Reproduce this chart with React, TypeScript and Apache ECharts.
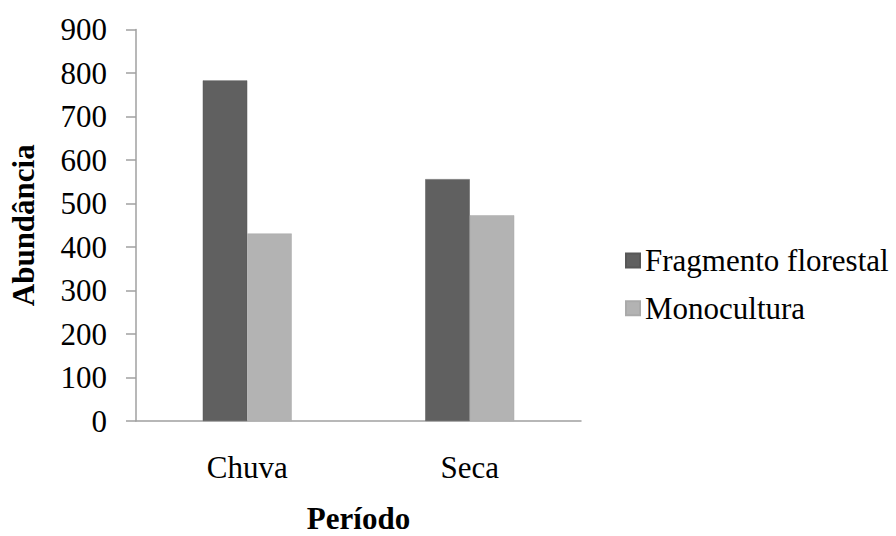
import React, { useEffect, useRef } from "react";
import * as echarts from "echarts";

const categories = ["Chuva", "Seca"];
const seriesNames = ["Fragmento florestal", "Monocultura"];
const fragmentoValues = [783, 556];
const monoculturaValues = [431, 473];
const yTicks = { min: 0, max: 900, interval: 100 };

const FONT = "Liberation Serif, Times New Roman, serif";

export default function App() {
  const ref = useRef<HTMLDivElement>(null);
  useEffect(() => {
    if (!ref.current) return;
    const chart = echarts.init(ref.current, null, { renderer: "svg", width: 896, height: 536 });
    chart.setOption({
      animation: false,
      backgroundColor: "#ffffff",
      textStyle: { fontFamily: FONT },
      grid: { left: 136, right: 315, top: 29.5, bottom: 115, containLabel: false, outerBoundsMode: "none" },
      legend: {
        orient: "vertical",
        left: 620,
        top: 240,
        itemWidth: 14,
        itemHeight: 14,
        itemGap: 16.7,
        icon: "rect",
        textStyle: { fontFamily: FONT, fontSize: 31, color: "#000", lineHeight: 30 },
        data: seriesNames,
      },
      xAxis: {
        type: "category",
        data: categories,
        axisLine: { lineStyle: { color: "#a0a0a0", width: 1.5 } },
        axisTick: { show: false },
        axisLabel: { fontFamily: FONT, fontSize: 31, color: "#000", margin: 31, lineHeight: 30 },
        name: "Período",
        nameLocation: "middle",
        nameGap: 84,
        nameTextStyle: { fontFamily: FONT, fontSize: 31, fontWeight: "bold", color: "#000", lineHeight: 26 },
      },
      yAxis: {
        type: "value",
        min: yTicks.min,
        max: yTicks.max,
        interval: yTicks.interval,
        axisLine: { show: true, lineStyle: { color: "#a0a0a0", width: 1.5 } },
        axisTick: { show: true, length: 10, lineStyle: { color: "#a0a0a0", width: 1.5 } },
        splitLine: { show: false },
        axisLabel: { fontFamily: FONT, fontSize: 31, color: "#000", margin: 29 },
        name: "Abundância",
        nameLocation: "middle",
        nameGap: 97,
        nameRotate: 90,
        nameTextStyle: { fontFamily: FONT, fontSize: 31, fontWeight: "bold", color: "#000", lineHeight: 32 },
      },
      series: [
        {
          name: seriesNames[0],
          type: "bar",
          data: fragmentoValues,
          barGap: "0%",
          barCategoryGap: "60%",
          itemStyle: { color: "#606060", borderColor: "#575757", borderWidth: 0.5 },
        },
        {
          name: seriesNames[1],
          type: "bar",
          data: monoculturaValues,
          barGap: "0%",
          barCategoryGap: "60%",
          itemStyle: { color: "#b3b3b3", borderColor: "#aaaaaa", borderWidth: 0.5 },
        },
      ],
    });
    return () => chart.dispose();
  }, []);
  return <div ref={ref} style={{ width: 896, height: 536, position: "absolute", left: 0, top: 0 }} />;
}
